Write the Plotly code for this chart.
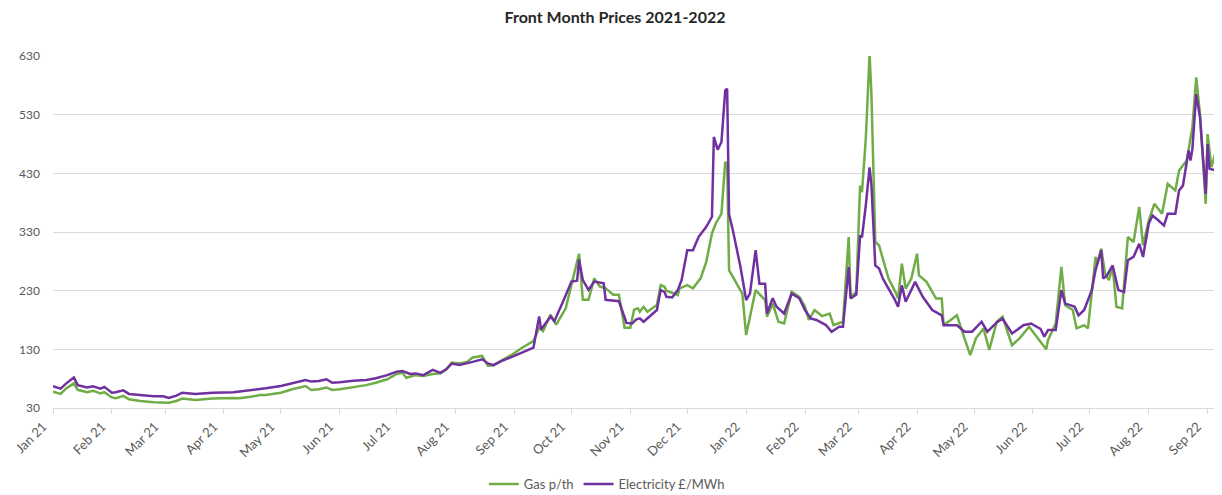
import plotly.graph_objects as go

title = "Front Month Prices 2021-2022"
y_ticks = [30, 130, 230, 330, 430, 530, 630]
x_tick_dates = ["2021-01-01", "2021-02-01", "2021-03-01", "2021-04-01", "2021-05-01", "2021-06-01",
                "2021-07-01", "2021-08-01", "2021-09-01", "2021-10-01", "2021-11-01", "2021-12-01",
                "2022-01-01", "2022-02-01", "2022-03-01", "2022-04-01", "2022-05-01", "2022-06-01",
                "2022-07-01", "2022-08-01", "2022-09-01"]
x_tick_labels = ["Jan 21", "Feb 21", "Mar 21", "Apr 21", "May 21", "Jun 21", "Jul 21", "Aug 21",
                 "Sep 21", "Oct 21", "Nov 21", "Dec 21", "Jan 22", "Feb 22", "Mar 22", "Apr 22",
                 "May 22", "Jun 22", "Jul 22", "Aug 22", "Sep 22"]

gas_dates = [
    "2021-01-01", "2021-01-05", "2021-01-08", "2021-01-12", "2021-01-14", "2021-01-19", "2021-01-22",
    "2021-01-26", "2021-01-28", "2021-02-01", "2021-02-03", "2021-02-07", "2021-02-10", "2021-02-16",
    "2021-02-23", "2021-02-28", "2021-03-03", "2021-03-07", "2021-03-10", "2021-03-17", "2021-03-26",
    "2021-04-06", "2021-04-09", "2021-04-15", "2021-04-20", "2021-04-23", "2021-05-01", "2021-05-07",
    "2021-05-14", "2021-05-17", "2021-05-21", "2021-05-25", "2021-05-28", "2021-06-01", "2021-06-08",
    "2021-06-15", "2021-06-20", "2021-06-26", "2021-07-01", "2021-07-04", "2021-07-06", "2021-07-08",
    "2021-07-11", "2021-07-15", "2021-07-20", "2021-07-24", "2021-07-27", "2021-07-30", "2021-08-03",
    "2021-08-07", "2021-08-10", "2021-08-15", "2021-08-18", "2021-08-21", "2021-08-27", "2021-08-31",
    "2021-09-05", "2021-09-11", "2021-09-14", "2021-09-16", "2021-09-20", "2021-09-23", "2021-09-28",
    "2021-10-01", "2021-10-05", "2021-10-07", "2021-10-10", "2021-10-13", "2021-10-16", "2021-10-19",
    "2021-10-23", "2021-10-26", "2021-10-29", "2021-11-01", "2021-11-03", "2021-11-05", "2021-11-06",
    "2021-11-08", "2021-11-10", "2021-11-15", "2021-11-17", "2021-11-19", "2021-11-20", "2021-11-23",
    "2021-11-26", "2021-11-27", "2021-12-01", "2021-12-04", "2021-12-08", "2021-12-11", "2021-12-14",
    "2021-12-16", "2021-12-19", "2021-12-21", "2021-12-22", "2021-12-23", "2021-12-27", "2021-12-30",
    "2022-01-01", "2022-01-03", "2022-01-06", "2022-01-11", "2022-01-12", "2022-01-15", "2022-01-18",
    "2022-01-21", "2022-01-25", "2022-01-29", "2022-02-01", "2022-02-03", "2022-02-06", "2022-02-10",
    "2022-02-14", "2022-02-16", "2022-02-19", "2022-02-21", "2022-02-24", "2022-02-25", "2022-02-28",
    "2022-03-02", "2022-03-03", "2022-03-05", "2022-03-07", "2022-03-08", "2022-03-10", "2022-03-12",
    "2022-03-15", "2022-03-17", "2022-03-21", "2022-03-22", "2022-03-24", "2022-03-26", "2022-03-29",
    "2022-04-01", "2022-04-02", "2022-04-06", "2022-04-11", "2022-04-14", "2022-04-15", "2022-04-22",
    "2022-04-26", "2022-04-29", "2022-05-02", "2022-05-06", "2022-05-09", "2022-05-13", "2022-05-16",
    "2022-05-21", "2022-05-25", "2022-05-30", "2022-06-03", "2022-06-05", "2022-06-08", "2022-06-09",
    "2022-06-13", "2022-06-16", "2022-06-18", "2022-06-22", "2022-06-24", "2022-06-28", "2022-06-30",
    "2022-07-04", "2022-07-05", "2022-07-07", "2022-07-09", "2022-07-11", "2022-07-13", "2022-07-15",
    "2022-07-18", "2022-07-21", "2022-07-24", "2022-07-27", "2022-07-29", "2022-08-01", "2022-08-04",
    "2022-08-08", "2022-08-11", "2022-08-15", "2022-08-17", "2022-08-21", "2022-08-24", "2022-08-26",
    "2022-08-28", "2022-08-31", "2022-09-01", "2022-09-03", "2022-09-05", "2022-09-06", "2022-09-07"]
gas_values = [
    58, 54, 63.5, 72, 61, 57, 59.5,
    55, 57, 48, 46.5, 50.5, 45, 42,
    40, 40, 39, 42, 46, 43.6, 46,
    47, 46.5, 49, 52, 52, 56, 62,
    67.5, 60.7, 62, 65, 60.7, 62, 65,
    69, 73, 79, 88, 90, 81.6, 83,
    86, 84.5, 88, 89, 95, 107.5, 106,
    108.6, 116, 118.7, 102, 103, 114, 121.5,
    132.8, 144, 166.6, 161, 189, 172, 200,
    240, 293, 214.5, 214.5, 251, 237, 234,
    223, 223, 166.6, 166.6, 197.6, 200, 194,
    202.6, 194, 205.5, 239.5, 236.7, 230, 226.5,
    222.5, 234, 239.5, 234, 251, 279, 327.5,
    344.5, 361.5, 449.4, 446.6, 265, 242.3, 225,
    154.4, 185.6, 231, 214, 185.6, 208, 177,
    174, 228, 219.6, 202.6, 180, 197, 186.7,
    191, 171.4, 174, 177, 321.4, 219.5, 228,
    409, 398, 488.5, 633, 562, 313, 307,
    273, 250.6, 225, 216.6, 276, 233.6, 250.6,
    293, 256, 245, 216.6, 216.6, 171, 188,
    148.7, 120, 148.7, 165.7, 129, 177, 185.5,
    137, 148.7, 168.5, 151.5, 143, 130, 146,
    174, 270.5, 205, 197, 165.7, 171, 165.7,
    287.5, 276, 301.7, 259, 248, 270.5, 202.5,
    199.7, 321.5, 313, 372.5, 307, 350, 378,
    361, 412, 401, 435, 452, 508.5, 593.5,
    531, 378, 497, 440.5, 463, 418, 401]

elec_dates = [
    "2021-01-01", "2021-01-05", "2021-01-08", "2021-01-12", "2021-01-14", "2021-01-19", "2021-01-22",
    "2021-01-26", "2021-01-28", "2021-02-01", "2021-02-03", "2021-02-07", "2021-02-10", "2021-02-16",
    "2021-02-23", "2021-02-28", "2021-03-03", "2021-03-07", "2021-03-10", "2021-03-17", "2021-03-26",
    "2021-04-06", "2021-04-09", "2021-04-15", "2021-04-20", "2021-04-23", "2021-05-01", "2021-05-07",
    "2021-05-14", "2021-05-17", "2021-05-21", "2021-05-25", "2021-05-28", "2021-06-01", "2021-06-08",
    "2021-06-15", "2021-06-20", "2021-06-26", "2021-07-01", "2021-07-04", "2021-07-08", "2021-07-11",
    "2021-07-15", "2021-07-20", "2021-07-24", "2021-07-27", "2021-07-30", "2021-08-03", "2021-08-07",
    "2021-08-10", "2021-08-15", "2021-08-18", "2021-08-21", "2021-08-25", "2021-08-31", "2021-09-05",
    "2021-09-11", "2021-09-14", "2021-09-15", "2021-09-20", "2021-09-22", "2021-09-27", "2021-10-01",
    "2021-10-04", "2021-10-05", "2021-10-07", "2021-10-10", "2021-10-13", "2021-10-18", "2021-10-19",
    "2021-10-26", "2021-10-30", "2021-11-02", "2021-11-04", "2021-11-06", "2021-11-08", "2021-11-11",
    "2021-11-15", "2021-11-17", "2021-11-19", "2021-11-20", "2021-11-23", "2021-11-26", "2021-11-28",
    "2021-12-01", "2021-12-04", "2021-12-07", "2021-12-09", "2021-12-11", "2021-12-14", "2021-12-15",
    "2021-12-17", "2021-12-19", "2021-12-21", "2021-12-22", "2021-12-23", "2021-12-25", "2021-12-29",
    "2022-01-01", "2022-01-03", "2022-01-06", "2022-01-08", "2022-01-11", "2022-01-12", "2022-01-15",
    "2022-01-17", "2022-01-21", "2022-01-25", "2022-01-29", "2022-02-01", "2022-02-04", "2022-02-07",
    "2022-02-12", "2022-02-15", "2022-02-19", "2022-02-21", "2022-02-24", "2022-02-25", "2022-02-28",
    "2022-03-02", "2022-03-03", "2022-03-05", "2022-03-07", "2022-03-08", "2022-03-10", "2022-03-12",
    "2022-03-14", "2022-03-16", "2022-03-20", "2022-03-22", "2022-03-24", "2022-03-26", "2022-03-31",
    "2022-04-04", "2022-04-09", "2022-04-14", "2022-04-15", "2022-04-22", "2022-04-26", "2022-04-30",
    "2022-05-05", "2022-05-08", "2022-05-13", "2022-05-16", "2022-05-21", "2022-05-27", "2022-05-31",
    "2022-06-05", "2022-06-07", "2022-06-09", "2022-06-13", "2022-06-16", "2022-06-18", "2022-06-21",
    "2022-06-23", "2022-06-25", "2022-06-28", "2022-07-02", "2022-07-04", "2022-07-07", "2022-07-08",
    "2022-07-10", "2022-07-13", "2022-07-16", "2022-07-19", "2022-07-21", "2022-07-24", "2022-07-27",
    "2022-07-29", "2022-08-01", "2022-08-03", "2022-08-06", "2022-08-09", "2022-08-11", "2022-08-15",
    "2022-08-17", "2022-08-19", "2022-08-22", "2022-08-23", "2022-08-24", "2022-08-26", "2022-08-28",
    "2022-08-31", "2022-09-01", "2022-09-02", "2022-09-05", "2022-09-06", "2022-09-07"]
elec_values = [
    67, 63, 72, 82, 69, 65, 67,
    63, 66, 56, 57, 60, 54, 52,
    50, 50, 47, 51, 56, 54, 56,
    57, 58, 60, 62, 63.5, 67.5, 72,
    77.7, 75, 76, 79, 73, 74, 76.5,
    77.7, 80.6, 86, 92, 93, 88, 89,
    86, 95, 90, 96, 105.8, 103.5, 106,
    108.6, 113, 106, 103, 110, 117.6, 124,
    132.8, 186, 164, 186, 178, 214.5, 245.5,
    247, 283, 248, 231.4, 245.5, 242.7, 214.5,
    212, 175, 174, 180.7, 182.8, 177, 185.6,
    197, 231, 228, 219.6, 218.5, 231, 248,
    299, 299, 321.8, 330, 338.8, 356, 492,
    470.4, 483.5, 571.5, 574, 360, 333, 270.7,
    214, 225, 299, 242, 242, 191, 217,
    202.6, 191, 225, 217, 197, 182.8, 180,
    171.4, 160, 168.5, 168.5, 270.4, 216.6, 223.4,
    324, 321, 375, 440, 409, 273, 267.6,
    250.6, 239, 216.6, 202.5, 239, 211, 245,
    219.5, 197, 188, 171, 171, 160, 160,
    177, 160, 176, 182.7, 157, 171, 174,
    165, 151.5, 163, 163, 231, 208, 205,
    202.5, 188, 197, 231, 265, 299, 250.7,
    256, 273, 231, 228, 282, 287.5, 310,
    287.5, 344, 358, 350, 341, 361, 361,
    401, 409, 469, 452, 471.7, 565, 525.5,
    395, 480, 437.7, 435, 423.5, 432]

series_names = ["Gas p/th", "Electricity £/MWh"]
series_colors = ["#70AD47", "#7030A0"]

FONT = "Lato, 'Open Sans', sans-serif"

# The page body keeps an 8px margin, so the figure is sized to fit the 1222x495 window.
fig = go.Figure()
fig.add_trace(go.Scatter(x=gas_dates, y=gas_values, mode="lines", name=series_names[0],
                         line=dict(color=series_colors[0], width=2.5)))
fig.add_trace(go.Scatter(x=elec_dates, y=elec_values, mode="lines", name=series_names[1],
                         line=dict(color=series_colors[1], width=2.5)))

fig.update_layout(
    width=1214, height=487,
    paper_bgcolor="white", plot_bgcolor="white",
    margin=dict(l=45, r=3, t=48, b=87, autoexpand=False),
    font=dict(family=FONT, size=12, color="#595959"),
    title=dict(text="<b>" + title + "</b>", x=0.5, xanchor="center", y=1 - 9 / 487, yanchor="middle",
               yref="container", font=dict(family=FONT, size=16, color="#262626")),
    showlegend=True,
    legend=dict(orientation="h", x=0.475, xanchor="center", y=-0.216, yanchor="middle",
                font=dict(family=FONT, size=13, color="#595959"), itemwidth=30,
                bgcolor="rgba(0,0,0,0)"),
    hovermode=False,
)
fig.update_xaxes(
    type="date", range=["2021-01-01", "2022-09-07"], automargin=False,
    tickmode="array", tickvals=x_tick_dates, ticktext=x_tick_labels,
    tickangle=-45, ticks="outside", ticklen=5, tickcolor="#D9D9D9",
    ticklabelshift=-10,
    showline=True, linecolor="#D9D9D9", linewidth=1,
    showgrid=False, zeroline=False,
    tickfont=dict(family=FONT, size=13, color="#595959"),
)
fig.update_yaxes(
    range=[30, 630], tickmode="array", tickvals=y_ticks, automargin=False,
    showgrid=True, gridcolor="#D9D9D9", gridwidth=1,
    showline=False, zeroline=False, ticks="", ticklabelstandoff=12,
    tickfont=dict(family=FONT, size=12, color="#595959"),
)

fig.write_html("out.html")
